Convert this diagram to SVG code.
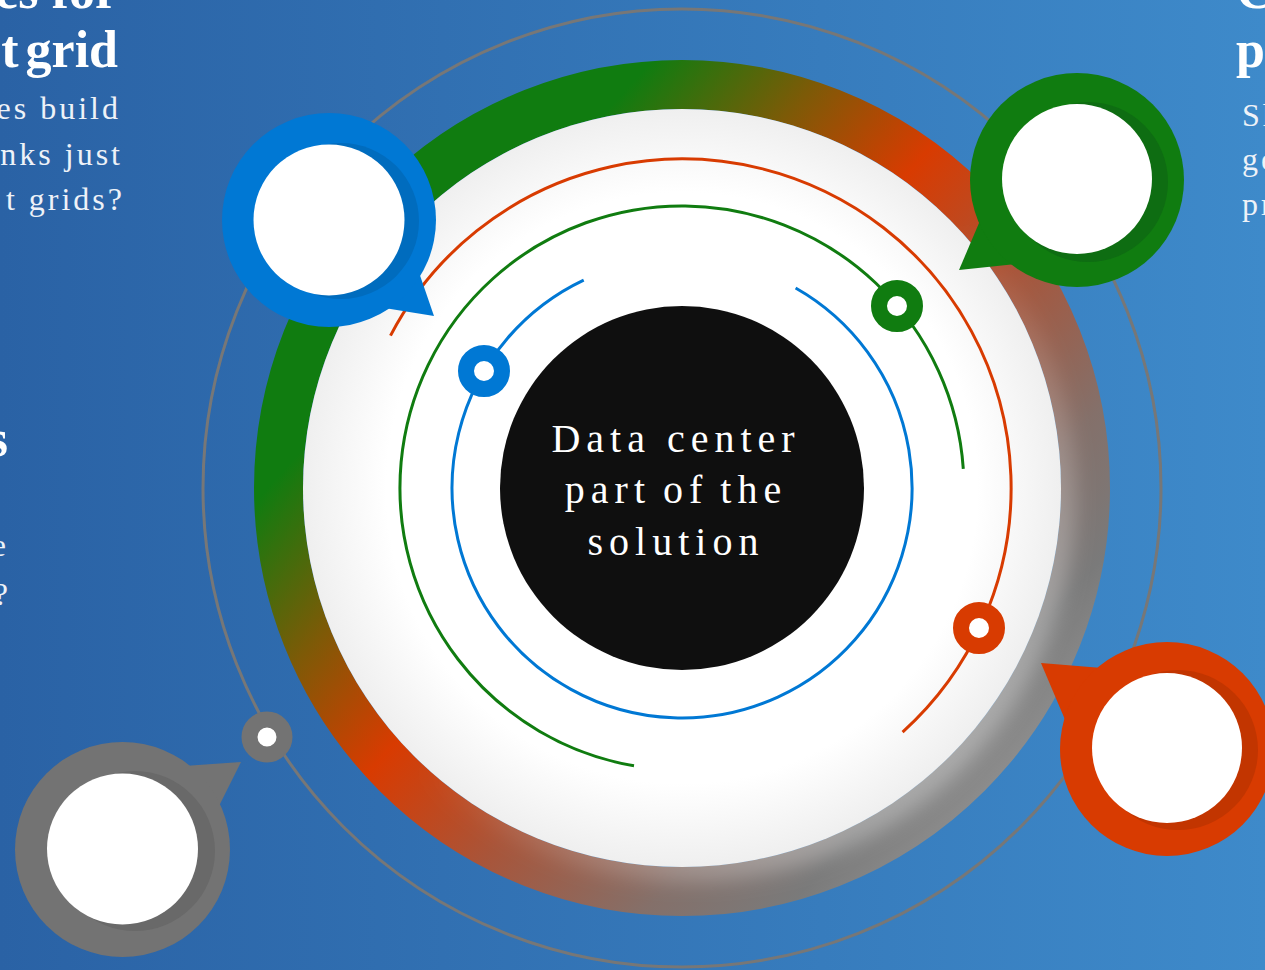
<svg xmlns="http://www.w3.org/2000/svg" width="1265" height="970" viewBox="0 0 1265 970">
  <defs>
    <linearGradient id="bg" x1="0" y1="0" x2="1" y2="0">
      <stop offset="0" stop-color="#2a62a5"/>
      <stop offset="1" stop-color="#3e8aca"/>
    </linearGradient>
    <linearGradient id="ringGrad" gradientUnits="userSpaceOnUse" x1="364" y1="202" x2="1000" y2="774">
      <stop offset="0" stop-color="#107c10"/>
      <stop offset="0.14" stop-color="#107c10"/>
      <stop offset="0.3" stop-color="#7d5a07"/>
      <stop offset="0.45" stop-color="#d83b01"/>
      <stop offset="0.62" stop-color="#a8553a"/>
      <stop offset="0.8" stop-color="#84706a"/>
      <stop offset="0.92" stop-color="#7a7a7a"/>
      <stop offset="1" stop-color="#8c8c8c"/>
    </linearGradient>
    <radialGradient id="diskGrad" cx="0.5" cy="0.5" r="0.5">
      <stop offset="0.78" stop-color="#ffffff"/>
      <stop offset="1" stop-color="#efefef"/>
    </radialGradient>
    <linearGradient id="glowGrad" x1="0" y1="0" x2="1" y2="1">
      <stop offset="0.5" stop-color="#ffffff" stop-opacity="0"/>
      <stop offset="1" stop-color="#ffffff" stop-opacity="0.5"/>
    </linearGradient>
    <filter id="soft" x="-10%" y="-10%" width="120%" height="120%">
      <feGaussianBlur stdDeviation="10"/>
    </filter>
    <style>
      .title { font-family: "Liberation Serif", serif; font-weight: bold; font-size: 52px; fill: #ffffff; }
      .body { font-family: "Liberation Serif", serif; font-size: 32px; fill: #eef2f8; letter-spacing: 3px; }
      .core { font-family: "Liberation Serif", serif; font-size: 40px; fill: #ffffff; letter-spacing: 6px; text-anchor: middle; }
      .arc { fill: none; stroke-width: 3; }
      .dot { fill: #ffffff; stroke-width: 16; }
    </style>
  </defs>

  <!-- backdrop -->
  <rect x="0" y="0" width="1265" height="970" fill="url(#bg)"/>

  <!-- side text, running off the edges -->
  <g id="text-left">
    <text class="title" x="118" y="8" text-anchor="end">es for</text>
    <text class="title" x="118" y="67" text-anchor="end" word-spacing="-6">t grid</text>
    <text class="body" x="121" y="119" text-anchor="end">es build</text>
    <text class="body" x="123" y="165" text-anchor="end">nks just</text>
    <text class="body" x="125" y="210" text-anchor="end">t grids?</text>
    <text class="title" x="8" y="456" text-anchor="end">s</text>
    <text class="body" x="9" y="556" text-anchor="end">e</text>
    <text class="body" x="11" y="605" text-anchor="end">?</text>
  </g>
  <g id="text-right">
    <text class="title" x="1236" y="8">C</text>
    <text class="title" x="1236" y="67">p</text>
    <text class="body" x="1242" y="126">Sh</text>
    <text class="body" x="1242" y="170">ge</text>
    <text class="body" x="1242" y="215">pr</text>
  </g>

  <!-- outer orbit -->
  <circle id="orbit" cx="682" cy="488" r="479" fill="none" stroke="#777777" stroke-width="3"/>

  <!-- gradient ring and white disk -->
  <g id="hub">
    <circle cx="682" cy="488" r="403.5" fill="none" stroke="url(#ringGrad)" stroke-width="49"/>
    <circle cx="690" cy="496" r="385" fill="url(#glowGrad)" filter="url(#soft)"/>
    <circle cx="682" cy="488" r="379" fill="url(#diskGrad)"/>
  </g>

  <!-- orbit arcs -->
  <g id="connectors">
    <path class="arc" stroke="#d83b01" d="M390.5,335.6 A329,329 0 1 1 902.6,732.1"/>
    <path class="arc" stroke="#107c10" d="M634,765.8 A282,282 0 1 1 963.3,468.8"/>
    <path class="arc" stroke="#0078d4" d="M795.6,288 A230,230 0 1 1 583.7,280.1"/>
  </g>

  <!-- markers on the orbits -->
  <g id="dot-orange"><circle class="dot" cx="979" cy="628" r="18" stroke="#d83b01"/></g>
  <g id="dot-green"><circle class="dot" cx="897" cy="306" r="18" stroke="#107c10"/></g>
  <g id="dot-blue"><circle class="dot" cx="484" cy="371" r="18" stroke="#0078d4"/></g>
  <g id="dot-gray"><circle class="dot" cx="267" cy="737" r="17.5" stroke="#737373"/></g>

  <!-- core -->
  <g id="core">
    <circle cx="682" cy="488" r="182" fill="#0f0f0f"/>
    <text class="core" x="676" y="452">Data center</text>
    <text class="core" x="676" y="503" word-spacing="-4">part of the</text>
    <text class="core" x="676" y="555">solution</text>
  </g>

  <!-- callout bubbles -->
  <g id="bubble-blue">
    <polygon points="434,316 414,258 372,306" fill="#0078d4"/>
    <circle cx="329" cy="220" r="107" fill="#0078d4"/>
    <circle cx="341" cy="221" r="78" fill="#006cbe"/>
    <circle cx="329" cy="220" r="75.5" fill="#ffffff"/>
  </g>
  <g id="bubble-green">
    <polygon points="959,270 982,216 1016,264" fill="#107c10"/>
    <circle cx="1077" cy="180" r="107" fill="#107c10"/>
    <circle cx="1088" cy="182" r="80" fill="#0e6d12"/>
    <circle cx="1077" cy="179" r="75" fill="#ffffff"/>
  </g>
  <g id="bubble-orange">
    <polygon points="1041,663 1102,668 1066,722" fill="#d83b01"/>
    <circle cx="1167" cy="749" r="107" fill="#d83b01"/>
    <circle cx="1178" cy="750" r="80" fill="#c23500"/>
    <circle cx="1167" cy="748" r="75" fill="#ffffff"/>
  </g>
  <g id="bubble-gray">
    <polygon points="241,762 184,766 218,808" fill="#737373"/>
    <circle cx="122.5" cy="849.5" r="107.5" fill="#737373"/>
    <circle cx="135" cy="851" r="80" fill="#696969"/>
    <circle cx="122.5" cy="849" r="75.5" fill="#ffffff"/>
  </g>
</svg>
